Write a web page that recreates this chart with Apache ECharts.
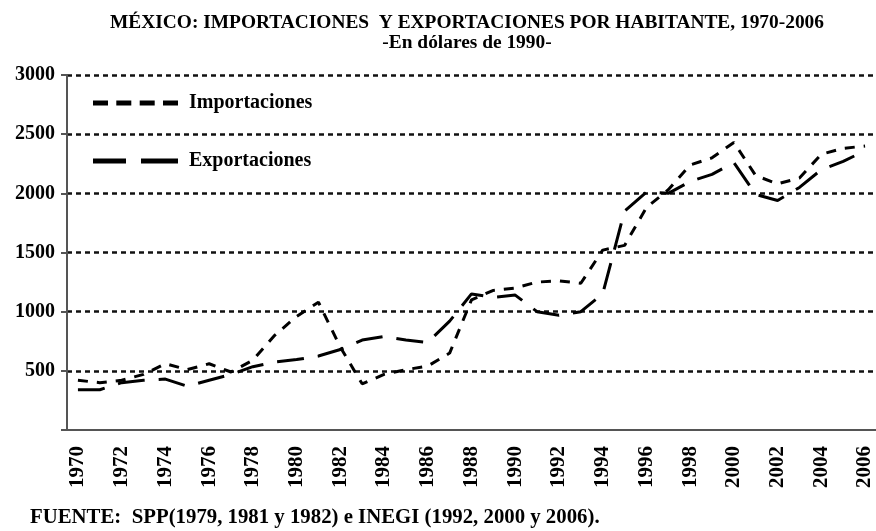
<!DOCTYPE html>
<html>
<head>
<meta charset="utf-8">
<script src="https://cdn.jsdelivr.net/npm/echarts@6/dist/echarts.min.js"></script>
<style>
  html, body { margin: 0; padding: 0; background: #fff; }
  #chart { width: 876px; height: 531px; }
</style>
</head>
<body>
<div id="chart"></div>
<script>
var anios = ['1970','1971','1972','1973','1974','1975','1976','1977','1978','1979',
  '1980','1981','1982','1983','1984','1985','1986','1987','1988','1989',
  '1990','1991','1992','1993','1994','1995','1996','1997','1998','1999',
  '2000','2001','2002','2003','2004','2005','2006'];
// dolares de 1990 por habitante
var importaciones = [420,400,420,470,560,510,560,490,590,800,
  960,1080,700,390,470,510,540,650,1100,1180,
  1200,1250,1260,1240,1520,1560,1880,2030,2240,2300,
  2430,2150,2080,2130,2330,2380,2400];
var exportaciones = [340,340,400,420,430,370,420,470,535,575,
  595,625,680,760,790,760,740,920,1150,1120,
  1140,1000,970,1000,1150,1850,2010,2000,2100,2160,
  2260,1990,1940,2050,2200,2270,2360];
var yTicks = [0, 3000, 500];

var serif = '"Liberation Serif", "Times New Roman", serif';
// iconos de leyenda: trazos cortos / trazos largos
var iconImp = 'path://M0,0H15V5H0Z M23.3,0H38.3V5H23.3Z M46.7,0H61.7V5H46.7Z M70,0H85V5H70Z';
var iconExp = 'path://M0,0H33V5H0Z M48,0H85V5H48Z';

var chart = echarts.init(document.getElementById('chart'));

chart.setOption({
  animation: false,
  backgroundColor: '#fff',
  grid: { left: 67, right: -5, top: 75, bottom: 101 },
  legend: {
    orient: 'vertical',
    left: 88, top: 88,
    itemWidth: 85, itemHeight: 5, itemGap: 38,
    data: [
      { name: 'Importaciones', icon: iconImp },
      { name: 'Exportaciones', icon: iconExp }
    ],
    itemStyle: { color: '#000', borderWidth: 0 },
    textStyle: { fontFamily: serif, fontWeight: 'bold', fontSize: 20, color: '#000', padding: [0, 0, 0, 6] }
  },
  xAxis: {
    type: 'category',
    data: anios,
    boundaryGap: true,
    axisLine: { lineStyle: { color: '#555', width: 2 } },
    axisTick: { interval: 0, length: 8, lineStyle: { color: '#555', width: 2 } },
    axisLabel: {
      interval: 1, rotate: 90, margin: 16,
      fontFamily: serif, fontWeight: 'bold', fontSize: 21, color: '#000'
    },
    splitLine: { show: false }
  },
  yAxis: {
    type: 'value',
    min: yTicks[0], max: yTicks[1], interval: yTicks[2],
    axisLine: { show: true, lineStyle: { color: '#555', width: 2 } },
    axisTick: { show: true, length: 6, lineStyle: { color: '#555', width: 2 } },
    axisLabel: {
      margin: 12,
      fontFamily: serif, fontWeight: 'bold', fontSize: 20, color: '#000',
      formatter: function (v) { return v === 0 ? '' : v; }
    },
    splitLine: {
      show: true, showMinLine: false,
      lineStyle: { color: '#111', width: 2.5, type: [5, 4] }
    }
  },
  series: [
    {
      name: 'Importaciones', type: 'line', data: importaciones,
      symbol: 'none', smooth: false,
      lineStyle: { color: '#000', width: 3, type: [10, 9] },
      itemStyle: { color: '#000' }
    },
    {
      name: 'Exportaciones', type: 'line', data: exportaciones,
      symbol: 'none', smooth: false,
      lineStyle: { color: '#000', width: 3, type: [27, 14] },
      itemStyle: { color: '#000' }
    }
  ],
  graphic: [
    {
      type: 'text', x: 467, y: 23,
      style: {
        text: 'MÉXICO: IMPORTACIONES  Y EXPORTACIONES POR HABITANTE, 1970-2006',
        fontFamily: serif, fontWeight: 'bold', fontSize: 19.4, fill: '#000',
        textAlign: 'center', textVerticalAlign: 'middle'
      }
    },
    {
      type: 'text', x: 467, y: 43,
      style: {
        text: '-En dólares de 1990-',
        fontFamily: serif, fontWeight: 'bold', fontSize: 19.4, fill: '#000',
        textAlign: 'center', textVerticalAlign: 'middle'
      }
    },
    {
      type: 'text', x: 30, y: 518,
      style: {
        text: 'FUENTE:  SPP(1979, 1981 y 1982) e INEGI (1992, 2000 y 2006).',
        fontFamily: serif, fontWeight: 'bold', fontSize: 20.8, fill: '#000',
        textAlign: 'left', textVerticalAlign: 'middle'
      }
    }
  ]
});
</script>
</body>
</html>
